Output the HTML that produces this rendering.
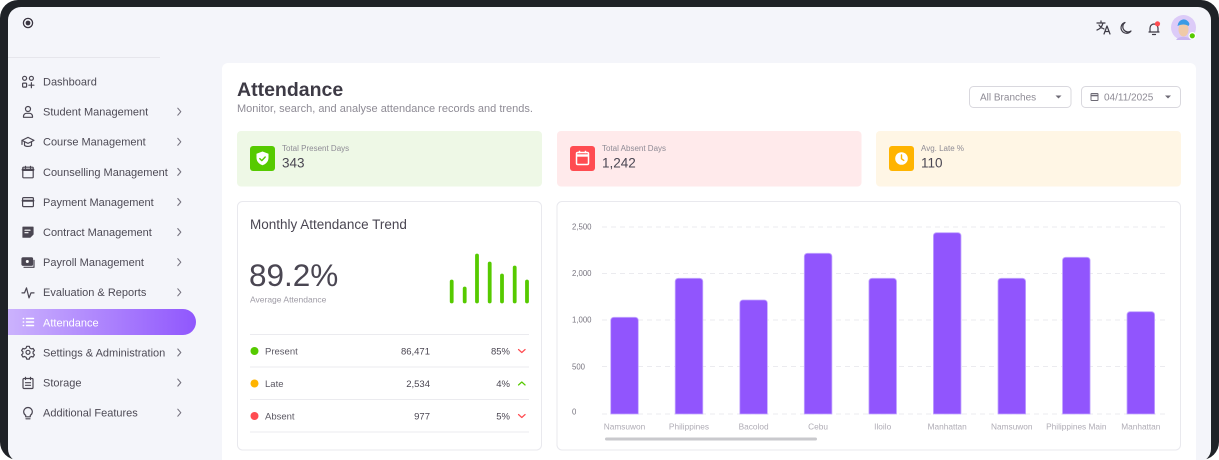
<!DOCTYPE html>
<html><head><meta charset="utf-8"><style>
html,body{margin:0;padding:0;background:#fff;}
svg{display:block;font-family:"Liberation Sans",sans-serif;}
</style></head><body>
<svg width="1219" height="460" viewBox="0 0 1219 460" xmlns="http://www.w3.org/2000/svg">
<defs>
<linearGradient id="pill" x1="0" x2="1" y1="0" y2="0"><stop offset="0" stop-color="#cbb2fd"/><stop offset="1" stop-color="#9057fd"/></linearGradient>
<clipPath id="scr"><rect x="8" y="7" width="1203" height="455" rx="13"/></clipPath>
</defs>
<rect width="1219" height="460" rx="18" fill="#1f2227"/>
<rect x="8" y="7" width="1203" height="455" rx="13" fill="#f4f5fa"/>
<g clip-path="url(#scr)">
<rect x="222" y="63" width="974" height="420" rx="6" fill="#fff"/>
</g>
<!-- sidebar -->
<circle cx="28" cy="23" r="4.6" fill="none" stroke="#3a3541" stroke-width="1.3"/>
<circle cx="28" cy="23" r="2.4" fill="#3a3541"/>
<line x1="8" y1="57.5" x2="160" y2="57.5" stroke="#e6e6ec" stroke-width="1"/>
<path d="M8 309 H183 a13 13 0 0 1 0 26 H8 Z" fill="url(#pill)"/>
<g font-size="11" fill="#4d4a55">
<text x="43" y="85.5">Dashboard</text>
<text x="43" y="115.6">Student Management</text>
<text x="43" y="145.7">Course Management</text>
<text x="43" y="175.8">Counselling Management</text>
<text x="43" y="205.9">Payment Management</text>
<text x="43" y="236">Contract Management</text>
<text x="43" y="266.1">Payroll Management</text>
<text x="43" y="296.2">Evaluation &amp; Reports</text>
<text x="43" y="326.3" fill="#fff">Attendance</text>
<text x="43" y="356.4">Settings &amp; Administration</text>
<text x="43" y="386.5">Storage</text>
<text x="43" y="416.6">Additional Features</text>
</g>
<g fill="none" stroke="#777480" stroke-width="1.1" stroke-linecap="round" stroke-linejoin="round">
<path d="M177.8 108.2 l3 3.5 l-3 3.5"/>
<path d="M177.8 138.3 l3 3.5 l-3 3.5"/>
<path d="M177.8 168.4 l3 3.5 l-3 3.5"/>
<path d="M177.8 198.5 l3 3.5 l-3 3.5"/>
<path d="M177.8 228.6 l3 3.5 l-3 3.5"/>
<path d="M177.8 258.7 l3 3.5 l-3 3.5"/>
<path d="M177.8 288.8 l3 3.5 l-3 3.5"/>
<path d="M177.8 349 l3 3.5 l-3 3.5"/>
<path d="M177.8 379.1 l3 3.5 l-3 3.5"/>
<path d="M177.8 409.2 l3 3.5 l-3 3.5"/>
</g>
<g fill="none" stroke="#4a4652" stroke-width="1.2" stroke-linecap="round" stroke-linejoin="round">
<g transform="translate(22,75.7)"><circle cx="2.6" cy="2.6" r="2"/><circle cx="9.4" cy="2.6" r="2"/><rect x="0.6" y="7.4" width="4" height="4" rx="0.8"/><path d="M9.4 7 v5 M6.9 9.5 h5"/></g>
<g transform="translate(22,105.8)"><circle cx="6" cy="3.2" r="2.5"/><path d="M1.5 11.5 v-1 a3 3 0 0 1 3 -3 h3 a3 3 0 0 1 3 3 v1 z"/></g>
<g transform="translate(21.5,135.9)"><path d="M0.5 4.5 L6.5 1.5 L12.5 4.5 L6.5 7.5 Z"/><path d="M3 6 v3.5 a4 2 0 0 0 7 0 V6"/><path d="M0.5 4.5 v4"/></g>
<g transform="translate(22,166)"><rect x="0.8" y="1.2" width="10.4" height="10.6" rx="0.8"/><path d="M0.8 3.8 h10.4" stroke-width="2.4"/><path d="M3.5 0.3 v2 M8.5 0.3 v2"/></g>
<g transform="translate(22,196.1)"><rect x="0.6" y="1.5" width="10.8" height="9" rx="1"/><path d="M0.6 4.6 h10.8" stroke-width="2"/></g>
<g transform="translate(22,226.2)"><path d="M1 1 h10 v7 l-3 3 h-7 z" fill="#4a4652"/><path d="M3 4 h5 M3 6.5 h3" stroke="#fff"/></g>
<g transform="translate(21.5,256.3)"><rect x="0.5" y="1.5" width="10.5" height="7.5" rx="1" fill="#4a4652"/><path d="M2.5 11 h10 v-7"/><circle cx="5.8" cy="5.2" r="1.5" fill="#fff" stroke="none"/></g>
<g transform="translate(21.5,286.4)"><path d="M0.5 6.5 h2.5 l2 -5 l2.5 10 l2 -5 h3"/></g>
<!-- settings gear -->
<g transform="translate(28,352.3)">
<path d="M-1.3 -6 h2.6 l0.5 1.7 l1.6 0.9 l1.7 -0.5 l1.3 2.2 l-1.3 1.2 v1.8 l1.3 1.2 l-1.3 2.2 l-1.7 -0.5 l-1.6 0.9 l-0.5 1.7 h-2.6 l-0.5 -1.7 l-1.6 -0.9 l-1.7 0.5 l-1.3 -2.2 l1.3 -1.2 v-1.8 l-1.3 -1.2 l1.3 -2.2 l1.7 0.5 l1.6 -0.9 z"/>
<circle cx="0" cy="0" r="2"/>
</g>
<g transform="translate(22,376.7)"><rect x="1" y="1.8" width="10" height="10" rx="1"/><path d="M3.5 0.6 v2.2 M8.5 0.6 v2.2 M3.5 6 h5 M3.5 8.6 h5"/></g>
<g transform="translate(22,406.8)"><path d="M3.7 8.6 a4.3 4.3 0 1 1 4.6 0 v1.4 h-4.6 z"/><path d="M4 12 h4"/></g>
</g>
<g stroke="#fff" stroke-width="1.5" stroke-linecap="round"><path d="M26.5 318.5 h7 M26.5 322 h7 M26.5 325.5 h7"/><path d="M23.3 318.5 h0.3 M23.3 322 h0.3 M23.3 325.5 h0.3"/></g>

<!-- top bar icons -->
<g fill="none" stroke="#3d3a45" stroke-width="1.2" stroke-linecap="round" stroke-linejoin="round">
<path d="M1097 23 h8 M1101 21 v2 M1103 23 c-1 4 -3 6 -6 7 M1099 25 c1 2 3 3 5 4"/>
<path d="M1104 34 l3 -8 l3 8 M1105.2 31.5 h3.6"/>
<path d="M1131 31 a5.5 5.5 0 1 1 -6 -8.5 a4.5 4.5 0 0 0 6 8.5 z"/>
<path d="M1149 32 h10 M1150 32 v-4 a4 4 0 0 1 8 0 v4 M1152.5 34.5 h3"/>
</g>
<circle cx="1157.5" cy="23.8" r="2.6" fill="#ff4c51"/>
<circle cx="1183.5" cy="27.5" r="12.5" fill="#dccbf8"/>
<ellipse cx="1183.5" cy="29.5" rx="5" ry="7" fill="#efcaa9"/>
<path d="M1177.5 26 a6.2 7 0 0 1 12 -2 l-1 2 c-3 -2 -7 -2 -11 0 z" fill="#3a9be6"/>
<path d="M1176 40 a8 5 0 0 1 15 0 z" fill="#c9b6f2"/>
<circle cx="1192.3" cy="35.8" r="3.2" fill="#56ca00" stroke="#fff" stroke-width="1.2"/>

<!-- header -->
<text x="237" y="96" font-size="19.5" font-weight="bold" fill="#3d3a45">Attendance</text>
<text x="237" y="112" font-size="11" fill="#8e8b95">Monitor, search, and analyse attendance records and trends.</text>

<!-- dropdowns -->
<rect x="969.5" y="86.5" width="101.5" height="21" rx="4" fill="#fff" stroke="#d9d8de"/>
<text x="980" y="100.5" font-size="10" fill="#8e8b95">All Branches</text>
<path d="M1055.5 95.5 h6 l-3 3 z" fill="#6d6a75"/>
<rect x="1081.5" y="86.5" width="99" height="21" rx="4" fill="#fff" stroke="#d9d8de"/>
<g fill="none" stroke="#6d6a75" stroke-width="1"><rect x="1091" y="93.5" width="7" height="7" rx="0.6"/><path d="M1091 95.5 h7" stroke-width="1.6"/></g>
<text x="1104" y="100.5" font-size="10" fill="#8e8b95">04/11/2025</text>
<path d="M1165 95.5 h6 l-3 3 z" fill="#6d6a75"/>

<!-- stat cards -->
<rect x="237" y="131" width="305" height="55.5" rx="4" fill="#eef8e6"/>
<rect x="557" y="131" width="304.5" height="55.5" rx="4" fill="#ffeaeb"/>
<rect x="876" y="131" width="305" height="55.5" rx="4" fill="#fff6e5"/>
<rect x="250" y="146" width="25" height="25" rx="3" fill="#56ca00"/>
<path d="M262.5 151.5 l6 2.3 v4 c0 4 -3 6.5 -6 7.5 c-3 -1 -6 -3.5 -6 -7.5 v-4 z" fill="#fff"/>
<path d="M259.8 158.6 l2 2 l3.4 -3.6" fill="none" stroke="#56ca00" stroke-width="1.4" stroke-linecap="round" stroke-linejoin="round"/>
<rect x="570" y="146" width="25" height="25" rx="3" fill="#ff4c51"/>
<g fill="none" stroke="#fff" stroke-width="1.5"><rect x="576.5" y="152.5" width="12" height="12" rx="1.2"/><path d="M576.5 155.5 h12" stroke-width="2.4"/><path d="M579.5 150.8 v2.5 M585.5 150.8 v2.5"/></g>
<rect x="889" y="146" width="25" height="25" rx="3" fill="#ffb400"/>
<circle cx="901.5" cy="158.5" r="6.3" fill="#fff"/>
<path d="M901.5 155 v3.8 l2.3 1.6" fill="none" stroke="#ffb400" stroke-width="1.4" stroke-linecap="round"/>
<g font-size="8" fill="#8e8b95">
<text x="282" y="151">Total Present Days</text>
<text x="602" y="151">Total Absent Days</text>
<text x="921" y="151">Avg. Late %</text>
</g>
<g font-size="13.5" fill="#4a4652">
<text x="282" y="167.5">343</text>
<text x="602" y="167.5">1,242</text>
<text x="921" y="167.5">110</text>
</g>

<!-- left card -->
<rect x="237.5" y="201.5" width="304" height="248.5" rx="5" fill="#fff" stroke="#e9e9ee"/>
<text x="250" y="229" font-size="13.5" fill="#4a4652">Monthly Attendance Trend</text>
<text x="249" y="286" font-size="31.5" fill="#4a4652">89.2%</text>
<text x="250" y="302.3" font-size="8.5" fill="#9e9ba5">Average Attendance</text>
<g stroke="#56ca00" stroke-width="3.8" stroke-linecap="round">
<path d="M451.7 281.5 V301.5"/><path d="M464.7 288.5 V301.5"/><path d="M477 255.5 V301.5"/><path d="M489.7 263.5 V301.5"/><path d="M502 275.5 V301.5"/><path d="M514.7 267.5 V301.5"/><path d="M527 281.5 V301.5"/>
</g>
<g stroke="#ebebef" stroke-width="1"><path d="M250 334.5 H529 M250 367 H529 M250 399.5 H529 M250 432 H529"/></g>
<circle cx="254.5" cy="351" r="4" fill="#56ca00"/>
<circle cx="254.5" cy="383.5" r="4" fill="#ffb400"/>
<circle cx="254.5" cy="416" r="4" fill="#ff4c51"/>
<g font-size="9.5" fill="#5b5863">
<text x="265" y="354.4">Present</text>
<text x="265" y="386.9">Late</text>
<text x="265" y="419.4">Absent</text>
</g>
<g font-size="9.5" fill="#4a4652" text-anchor="end">
<text x="430" y="354.4">86,471</text>
<text x="430" y="386.9">2,534</text>
<text x="430" y="419.4">977</text>
<text x="510" y="354.4">85%</text>
<text x="510" y="386.9">4%</text>
<text x="510" y="419.4">5%</text>
</g>
<g fill="none" stroke-width="1.2" stroke-linecap="round" stroke-linejoin="round">
<path d="M518.5 349.5 l3.3 3 l3.3 -3" stroke="#ff4c51"/>
<path d="M518.5 385 l3.3 -3 l3.3 3" stroke="#56ca00"/>
<path d="M518.5 414.5 l3.3 3 l3.3 -3" stroke="#ff4c51"/>
</g>

<!-- right card -->
<rect x="557" y="201.5" width="623.5" height="248.5" rx="5" fill="#fff" stroke="#e9e9ee"/>
<g stroke="#ebebef" stroke-width="1" stroke-dasharray="5 4">
<path d="M602 227 H1166 M602 273.5 H1166 M602 320 H1166 M602 366.5 H1166 M602 414 H1166"/>
</g>
<g font-size="7.8" fill="#77747f">
<text x="572" y="229.5">2,500</text>
<text x="572" y="276">2,000</text>
<text x="572" y="322.7">1,000</text>
<text x="572" y="369.3">500</text>
<text x="572" y="414.7">0</text>
</g>
<g fill="#9155fd" stroke="#c4a8fe" stroke-width="0.8">
<path d="M610.7 414 V320.3 a3 3 0 0 1 3 -3 h21.6 a3 3 0 0 1 3 3 V414 z"/>
<path d="M675.2 414 V281.3 a3 3 0 0 1 3 -3 h21.6 a3 3 0 0 1 3 3 V414 z"/>
<path d="M739.8 414 V303 a3 3 0 0 1 3 -3 h21.6 a3 3 0 0 1 3 3 V414 z"/>
<path d="M804.3 414 V256.3 a3 3 0 0 1 3 -3 h21.6 a3 3 0 0 1 3 3 V414 z"/>
<path d="M868.9 414 V281.3 a3 3 0 0 1 3 -3 h21.6 a3 3 0 0 1 3 3 V414 z"/>
<path d="M933.4 414 V235.7 a3 3 0 0 1 3 -3 h21.6 a3 3 0 0 1 3 3 V414 z"/>
<path d="M998 414 V281.3 a3 3 0 0 1 3 -3 h21.6 a3 3 0 0 1 3 3 V414 z"/>
<path d="M1062.5 414 V260.3 a3 3 0 0 1 3 -3 h21.6 a3 3 0 0 1 3 3 V414 z"/>
<path d="M1127 414 V314.7 a3 3 0 0 1 3 -3 h21.6 a3 3 0 0 1 3 3 V414 z"/>
</g>
<g font-size="8.3" fill="#afacb5" text-anchor="middle">
<text x="624.5" y="429.6">Namsuwon</text>
<text x="689" y="429.6">Philippines</text>
<text x="753.6" y="429.6">Bacolod</text>
<text x="818.1" y="429.6">Cebu</text>
<text x="882.7" y="429.6">Iloilo</text>
<text x="947.2" y="429.6">Manhattan</text>
<text x="1011.8" y="429.6">Namsuwon</text>
<text x="1076.3" y="429.6">Philippines Main</text>
<text x="1140.8" y="429.6">Manhattan</text>
</g>
<rect x="605" y="437.5" width="212" height="3" rx="1.5" fill="#c9c9cd"/>
</svg>
</body></html>
